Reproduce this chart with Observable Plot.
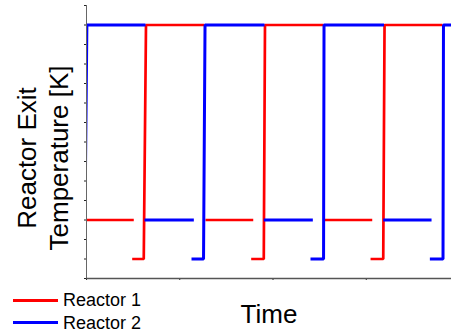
<!DOCTYPE html>
<html><head><meta charset="utf-8">
<script src="https://cdn.jsdelivr.net/npm/d3@7"></script>
<script src="https://cdn.jsdelivr.net/npm/@observablehq/plot@0.6"></script>
<style>
body{margin:0;background:#fff;font-family:"Liberation Sans",Arial,sans-serif;}
#wrap{position:relative;width:451px;height:334px;overflow:hidden;background:#fff}
#wrap svg{position:absolute;left:0;top:0}
.leg{position:absolute;left:13px;height:22px;display:flex;align-items:center;font-size:18px;line-height:22px;color:#000;white-space:nowrap}
.sw{width:45px;height:3px;margin-right:5px}
</style></head>
<body><div id="wrap"></div>
<script>
// Values (time in axis-tick units, temperature in y-tick units)
const seriesNames = ["Reactor 1", "Reactor 2"];
const seriesColors = ["#ff0000", "#0000ff"];
const reactor1Time = [0, 0.507, NaN, 0.490, 0.614, 0.638, 1.265, NaN, 1.276, 1.788, NaN, 1.766, 1.901, 1.914, 2.542, NaN, 2.542, 3.064, NaN, 3.046, 3.182, 3.196, 3.818];
const reactor1Temp = [3, 3, NaN, 1, 1, 13, 13, NaN, 3, 3, NaN, 1, 1, 13, 13, NaN, 3, 3, NaN, 1, 1, 13, 13];
const reactor2Time = [-0.05, -0.02, 0.004, 0.633, NaN, 0.622, 1.151, NaN, 1.126, 1.255, 1.271, 1.909, NaN, 1.901, 2.427, NaN, 2.402, 2.542, 2.547, 3.190, NaN, 3.182, 3.700, NaN, 3.682, 3.823, 3.828, 3.95];
const reactor2Temp = [1, 1, 13, 13, NaN, 3, 3, NaN, 1, 1, 13, 13, NaN, 3, 3, NaN, 1, 1, 13, 13, NaN, 3, 3, NaN, 1, 1, 13, 13];
const xTicks = [0, 1, 2, 3];
const yTicks = d3.range(0, 15);
const xLabel = "Time";
const yLabel = "Reactor Exit\nTemperature [K]";

const toRows = (t, v) => t.map((d, i) => ({t: d, v: v[i]}));
const r1 = toRows(reactor1Time, reactor1Temp);
const r2 = toRows(reactor2Time, reactor2Temp);

const chart = Plot.plot({
  width: 451, height: 334,
  marginLeft: 86, marginRight: 0, marginTop: 5, marginBottom: 56,
  x: {domain: [0, 3.914]},
  y: {domain: [0, 14]},
  style: {fontFamily: '"Liberation Sans", Arial, sans-serif', background: "white", overflow: "visible", color: "#000"},
  marks: [
    Plot.axisX({ticks: xTicks, tickSize: 2, tickFormat: () => "", label: null, stroke: "#222"}),
    Plot.axisY({ticks: yTicks, tickSize: 2, tickFormat: () => "", label: null, stroke: "#222"}),
    Plot.line(r1, {x: "t", y: "v", stroke: seriesColors[0], strokeWidth: 2.7, strokeLinejoin: "miter", strokeLinecap: "butt", clip: true}),
    Plot.line(r2, {x: "t", y: "v", stroke: seriesColors[1], strokeWidth: 3, strokeLinejoin: "miter", strokeLinecap: "butt", clip: true}),
    Plot.ruleX([0], {stroke: "#666", strokeWidth: 1}),
    Plot.ruleY([0], {stroke: "#555", strokeWidth: 1.3}),
    Plot.text([yLabel], {text: d => d, frameAnchor: "left", rotate: -90, dx: -44.7, dy: 16, lineHeight: 1.23, fontSize: 26, textAnchor: "middle", lineAnchor: "middle", fill: "#000"}),
    Plot.text([xLabel], {text: d => d, frameAnchor: "bottom", dy: 36, fontSize: 26, lineAnchor: "middle", fill: "#000"})
  ]
});
const wrap = document.getElementById("wrap");
wrap.appendChild(chart);
seriesNames.forEach((name, i) => {
  const row = document.createElement("div");
  row.className = "leg";
  row.style.top = (289 + i * 22.7) + "px";
  const sw = document.createElement("div");
  sw.className = "sw";
  sw.style.background = seriesColors[i];
  const tx = document.createElement("span");
  tx.textContent = name;
  row.appendChild(sw); row.appendChild(tx);
  wrap.appendChild(row);
});
</script>
</body></html>
